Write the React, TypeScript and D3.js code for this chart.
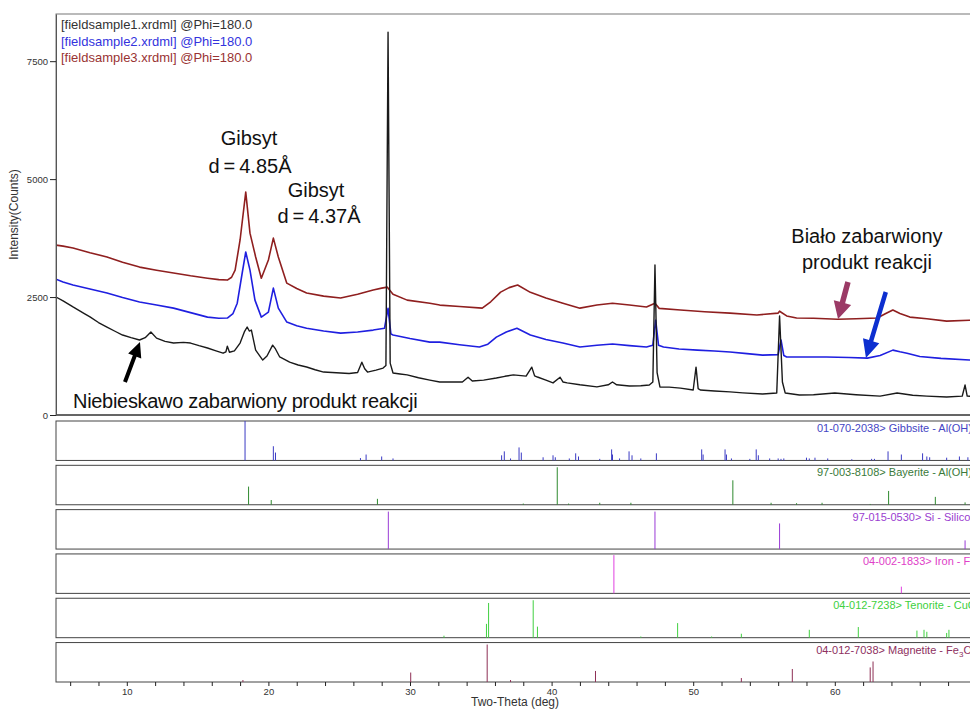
import { useEffect, useRef } from "react";
import * as d3 from "d3";

// measured scans: [2-theta (deg), intensity (counts)]
const sample1 = [
  [5.0, 2500], [5.5, 2420], [6.2, 2290], [7.0, 2150], [7.4, 2080], [8.0, 1960], [8.6, 1865],
  [9.2, 1770], [9.7, 1695], [10.3, 1640], [10.9, 1590], [11.3, 1640], [11.7, 1760], [12.1, 1630],
  [12.7, 1560], [13.3, 1525], [14.0, 1540], [14.5, 1525], [15.1, 1470], [15.7, 1420], [16.3, 1360],
  [16.8, 1310], [17.0, 1340], [17.1, 1460], [17.25, 1330], [17.6, 1360], [18.0, 1525], [18.3, 1760],
  [18.5, 1865], [18.65, 1780], [18.8, 1800], [19.1, 1375], [19.6, 1165], [19.9, 1250], [20.3, 1480],
  [20.5, 1400], [20.8, 1230], [21.5, 1120], [22.1, 1060], [22.7, 1017], [23.3, 960], [23.9, 910],
  [24.5, 900], [25.1, 890], [25.7, 880], [26.3, 900], [26.6, 1120], [26.8, 980], [27.0, 910],
  [27.6, 950], [28.1, 995], [28.3, 1050], [28.45, 8115], [28.6, 1100], [28.8, 890], [29.3, 870],
  [29.8, 850], [30.6, 790], [31.4, 740], [32.1, 700], [33.0, 700], [33.7, 700], [34.1, 800],
  [34.4, 720], [35.2, 740], [36.1, 785], [36.7, 820], [37.3, 850], [38.2, 825], [38.6, 1015],
  [38.8, 830], [39.0, 805], [39.6, 740], [40.1, 680], [40.6, 800], [40.8, 700], [41.1, 680],
  [42.0, 640], [43.2, 595], [44.0, 640], [44.3, 700], [44.6, 640], [45.5, 615], [46.3, 620],
  [46.9, 635], [47.15, 700], [47.3, 3180], [47.45, 900], [47.65, 595], [48.3, 590], [49.1, 570],
  [50.0, 530], [50.2, 1015], [50.35, 560], [50.5, 530], [51.5, 510], [52.6, 490], [53.5, 470],
  [54.9, 445], [55.9, 465], [56.1, 2100], [56.3, 700], [56.5, 465], [57.5, 425], [58.5, 430],
  [60.0, 465], [61.5, 430], [63.2, 400], [64.4, 465], [65.5, 420], [66.5, 400], [67.9, 380],
  [69.0, 400], [69.2, 635], [69.35, 400], [70.0, 390],
];

const sample2 = [
  [5.0, 2880], [5.5, 2820], [6.2, 2755], [7.4, 2670], [8.6, 2585], [9.7, 2490], [10.9, 2395],
  [12.1, 2330], [13.3, 2265], [14.5, 2170], [15.7, 2075], [16.5, 2050], [17.1, 2055], [17.5, 2150],
  [17.8, 2370], [18.15, 3010], [18.4, 3455], [18.7, 3070], [19.05, 2435], [19.5, 2075], [20.0, 2180],
  [20.35, 2690], [20.7, 2265], [21.3, 1970], [22.0, 1890], [22.7, 1840], [23.9, 1780], [25.1, 1735],
  [26.3, 1760], [27.4, 1800], [28.2, 1840], [28.45, 2260], [28.65, 1720], [28.8, 1695], [30.0, 1620],
  [31.4, 1545], [32.1, 1545], [33.5, 1490], [34.9, 1440], [35.5, 1500], [36.1, 1650], [36.8, 1760],
  [37.55, 1840], [38.5, 1695], [39.6, 1600], [40.8, 1525], [42.0, 1440], [43.2, 1480], [44.3, 1505],
  [45.5, 1470], [46.7, 1440], [47.15, 1480], [47.35, 2010], [47.55, 1480], [47.9, 1440], [49.0, 1400],
  [50.3, 1375], [51.5, 1355], [52.6, 1335], [53.8, 1300], [54.9, 1270], [56.0, 1280], [56.2, 1590],
  [56.4, 1260], [56.6, 1230], [57.5, 1230], [59.4, 1230], [61.0, 1220], [62.3, 1205], [63.2, 1260],
  [64.1, 1375], [64.6, 1340], [65.1, 1310], [66.0, 1240], [67.5, 1200], [69.5, 1165], [70.0, 1160],
];

const sample3 = [
  [5.0, 3600], [5.5, 3580], [6.2, 3540], [7.4, 3440], [8.6, 3350], [9.7, 3240], [10.9, 3135],
  [12.1, 3070], [13.3, 3010], [14.5, 2950], [15.7, 2900], [16.5, 2870], [17.1, 2860], [17.4, 2920],
  [17.65, 3070], [18.0, 3710], [18.4, 4725], [18.7, 3855], [19.1, 3350], [19.5, 2900], [20.0, 3285],
  [20.35, 3750], [20.7, 3350], [21.3, 2795], [22.0, 2680], [22.7, 2585], [23.9, 2520], [25.1, 2480],
  [26.3, 2560], [27.4, 2650], [28.0, 2690], [28.4, 2710], [28.8, 2560], [29.8, 2435], [31.4, 2370],
  [32.1, 2330], [33.5, 2300], [35.1, 2265], [35.7, 2400], [36.4, 2605], [37.0, 2700], [37.6, 2755],
  [38.5, 2600], [39.6, 2480], [40.8, 2370], [42.0, 2265], [43.2, 2330], [44.3, 2370], [45.5, 2330],
  [46.7, 2290], [47.3, 2370], [47.6, 2260], [49.1, 2225], [50.8, 2190], [52.6, 2160], [54.5, 2120],
  [56.0, 2160], [56.1, 2200], [56.6, 2100], [57.3, 2055], [58.5, 2050], [60.2, 2030], [61.5, 2040],
  [63.0, 2055], [63.6, 2150], [64.1, 2225], [64.6, 2150], [65.3, 2075], [66.5, 2040], [67.9, 1990],
  [69.5, 2010], [70.0, 2000],
];

const sampleNames = [
  "[fieldsample1.xrdml] @Phi=180.0",
  "[fieldsample2.xrdml] @Phi=180.0",
  "[fieldsample3.xrdml] @Phi=180.0",
];

// reference patterns: [2-theta (deg), relative intensity %]
const gibbsite = [
  [18.35, 100], [20.35, 36], [20.5, 20], [26.5, 6], [26.9, 15], [28.0, 10], [28.8, 5], [36.47, 13],
  [36.66, 23], [37.1, 5], [37.7, 33], [37.86, 20], [39.4, 8], [40.1, 13], [40.26, 8], [41.25, 5],
  [41.7, 18], [41.9, 10], [43.4, 4], [44.24, 28], [44.3, 15], [44.8, 5], [45.47, 23], [45.68, 13],
  [46.3, 5], [47.4, 18], [50.6, 28], [50.7, 15], [52.25, 28], [52.35, 15], [52.7, 5], [54.0, 4],
  [54.45, 28], [54.6, 13], [55.4, 5], [56.0, 5], [56.2, 4], [56.4, 5], [58.0, 7], [58.2, 5],
  [58.6, 7], [59.5, 5], [61.2, 3], [62.6, 4], [62.8, 4], [63.76, 23], [64.7, 15], [66.2, 18],
  [66.5, 10], [66.7, 8], [67.9, 7], [68.8, 10], [69.4, 8],
];
const bayerite = [
  [18.6, 46], [20.2, 12], [27.7, 15], [38.0, 3], [40.4, 95], [41.2, 3], [43.4, 5], [45.6, 5],
  [52.8, 62], [55.5, 5], [57.3, 4], [59.1, 5], [62.5, 2], [63.8, 35], [67.1, 20], [69.2, 6],
];
const silicon = [[28.47, 95], [47.3, 95], [56.1, 65], [69.2, 22]];
const iron = [[44.4, 97], [64.7, 17]];
const tenorite = [
  [32.4, 5], [35.4, 35], [35.55, 88], [38.7, 95], [39.0, 28], [46.3, 3], [48.9, 37], [51.3, 3],
  [53.4, 10], [58.2, 20], [61.66, 27], [65.8, 18], [66.3, 20], [66.5, 15], [67.9, 12], [68.06, 20],
];
const magnetite = [
  [18.2, 5], [30.05, 24], [35.45, 95], [37.1, 5], [43.1, 28], [53.4, 10], [57.0, 33], [62.5, 37],
  [62.7, 52],
];

const phaseCodes = ["01-070-2038", "97-003-8108", "97-015-0530", "04-002-1833", "04-012-7238", "04-012-7038"];
const phaseNames = ["Gibbsite", "Bayerite", "Si", "Iron", "Tenorite", "Magnetite"];
const phaseFormulas = ["Al(OH)3", "Al(OH)3", "Silicon", "Fe", "CuO", "Fe3O4"];
const phaseSticks = [gibbsite, bayerite, silicon, iron, tenorite, magnetite];

const yTicks = [0, 2500, 5000, 7500];
const xTicks = d3.range(6, 70, 2);

const sampleColors = ["#1a1a1a", "#1f1fe0", "#8f1f1f"];
const legendColors = ["#333333", "#3333dd", "#993333"];
const phaseColors = ["#3a3ac4", "#2f8a2f", "#9a3bd6", "#e040e0", "#40d040", "#8e2f55"];
const phaseTextColors = ["#4545c4", "#3a7a3a", "#9a40d0", "#e040c8", "#40d040", "#8e3060"];

const FONT = "'Liberation Sans', Arial, sans-serif";
const W = 970;
const H = 716;

const x = d3.scaleLinear().domain([5, 70]).range([56, 976.4]);
const y = d3.scaleLinear().domain([0, 8500]).range([415, 14]);
const band = d3.scaleBand<number>().domain(d3.range(6)).range([421, 682]).paddingInner(0.11);

const arrowPath = (x1: number, y1: number, x2: number, y2: number, sw: number, hw: number, hl: number) => {
  const dx = x2 - x1, dy = y2 - y1;
  const len = Math.hypot(dx, dy);
  const ux = dx / len, uy = dy / len;
  const nx = -uy, ny = ux;
  const bx = x2 - ux * hl, by = y2 - uy * hl;
  const p = [
    [x1 + nx * sw / 2, y1 + ny * sw / 2],
    [bx + nx * sw / 2, by + ny * sw / 2],
    [bx + nx * hw / 2, by + ny * hw / 2],
    [x2, y2],
    [bx - nx * hw / 2, by - ny * hw / 2],
    [bx - nx * sw / 2, by - ny * sw / 2],
    [x1 - nx * sw / 2, y1 - ny * sw / 2],
  ];
  return "M" + p.map((q) => q.join(",")).join("L") + "Z";
};

const Formula = ({ text }: { text: string }) => {
  const parts = text.split(/(\d+)/).filter((s) => s !== "");
  let shifted = false;
  return (
    <>
      {parts.map((s, i) => {
        if (/^\d+$/.test(s)) {
          shifted = true;
          return <tspan key={i} fontSize={8} dy={3}>{s}</tspan>;
        }
        const dy = shifted ? -3 : 0;
        shifted = false;
        return <tspan key={i} dy={dy}>{s}</tspan>;
      })}
    </>
  );
};

// "d=4.85Å" with the wider gaps round "=" seen in the original
const DText = ({ cx, cy, value }: { cx: number; cy: number; value: string }) => (
  <text x={cx} y={cy} textAnchor="middle">
    d<tspan dx={4}>=</tspan><tspan dx={4}>{value}</tspan>
  </text>
);

const App = () => {
  const xAxisRef = useRef<SVGGElement>(null);
  const yAxisRef = useRef<SVGGElement>(null);

  useEffect(() => {
    const gx = d3.select(xAxisRef.current);
    gx.selectAll("*").remove();
    gx.call(
      d3.axisBottom(x)
        .tickValues(xTicks)
        .tickSize(4)
        .tickSizeOuter(0)
        .tickPadding(2)
        .tickFormat((d) => (+d % 10 === 0 ? String(d) : ""))
    );
    gx.select(".domain").remove();
    gx.selectAll("line").attr("stroke", "#222");
    gx.selectAll("text").attr("font-size", 9.5).attr("font-family", FONT).attr("fill", "#333");

    const gy = d3.select(yAxisRef.current);
    gy.selectAll("*").remove();
    gy.call(d3.axisLeft(y).tickValues(yTicks).tickSize(6).tickSizeOuter(0).tickPadding(2).tickFormat(d3.format("d")));
    gy.select(".domain").attr("stroke", "#555");
    gy.selectAll("line").attr("stroke", "#222");
    gy.selectAll("text").attr("font-size", 9.5).attr("font-family", FONT).attr("fill", "#333");
  }, []);

  const line = d3
    .line<number[]>()
    .x((d) => x(d[0]))
    .y((d) => y(d[1]));

  const samples = [sample1, sample2, sample3];
  const widths = [1.4, 1.6, 1.6];

  const ax = (deg: number) => x(deg);
  const ay = (v: number) => y(v);

  return (
    <div style={{ position: "absolute", left: 0, top: 0, width: W, height: H, overflow: "hidden", background: "#fff" }}>
      <svg width={W} height={H} style={{ display: "block", fontFamily: FONT }}>
        <defs>
          <clipPath id="plotClip">
            <rect x={x(5)} y={y(8500)} width={x(70) - x(5)} height={y(0) - y(8500)} />
          </clipPath>
        </defs>

        {/* main plot frame */}
        <rect x={x(5)} y={y(8500)} width={x(70) - x(5)} height={y(0) - y(8500)} fill="none" stroke="#777" />
        <line x1={x(5)} x2={x(70)} y1={y(0)} y2={y(0)} stroke="#111" />

        {/* scans: red, blue, black on top */}
        <g clipPath="url(#plotClip)" fill="none" strokeLinejoin="round">
          {[2, 1, 0].map((i) => (
            <path key={i} d={line(samples[i]) ?? ""} stroke={sampleColors[i]} strokeWidth={widths[i]} />
          ))}
        </g>

        <g ref={yAxisRef} transform={`translate(${x(5)},0)`} />

        {/* legend */}
        {sampleNames.map((n, i) => (
          <text key={n} x={61} y={29 + i * 16.5} fontSize={13} fill={legendColors[i]}>
            {n}
          </text>
        ))}

        <text transform={`translate(18,${(y(0) + y(8500)) / 2}) rotate(-90)`} textAnchor="middle" fontSize={12} fill="#333">
          Intensity(Counts)
        </text>

        {/* annotations */}
        <g fontSize={20} fill="#111" textAnchor="middle">
          <text x={ax(18.63)} y={ay(5723)}>Gibsyt</text>
          <DText cx={ax(18.7)} cy={ay(5130)} value="4.85Å" />
          <text x={ax(23.36)} y={ay(4621)}>Gibsyt</text>
          <DText cx={ax(23.57)} cy={ay(4070)} value="4.37Å" />
          <text x={ax(62.27)} y={ay(3646)}>Biało zabarwiony</text>
          <text x={ax(62.27)} y={ay(3095)}>produkt reakcji</text>
          <text x={ax(6.2)} y={ay(148)} textAnchor="start" letterSpacing={-0.3}>
            Niebieskawo zabarwiony produkt reakcji
          </text>
        </g>
        <path d={arrowPath(ax(9.87), ay(700), ax(10.93), ay(1547), 4, 14, 15)} fill="#000" />
        <path d={arrowPath(ax(60.93), ay(2819), ax(60.23), ay(2035), 5.5, 18, 17)} fill="#9b3a66" />
        <path d={arrowPath(ax(63.6), ay(2607), ax(62.2), ay(1208), 4.5, 17, 18)} fill="#0d2fd0" />

        {/* reference pattern panels */}
        {phaseSticks.map((sticks, i) => {
          const top = band(i) ?? 0;
          const bottom = top + band.bandwidth();
          const sy = d3.scaleLinear().domain([0, 100]).range([bottom, top]);
          return (
            <g key={i}>
              <rect x={x(5)} y={top} width={x(70) - x(5)} height={bottom - top} fill="#fff" stroke="#444" />
              {sticks.map((s, j) => (
                <line key={j} x1={x(s[0])} x2={x(s[0])} y1={sy(0)} y2={sy(s[1])} stroke={phaseColors[i]} strokeWidth={1} />
              ))}
              <text x={x(70)} y={top + 11} textAnchor="end" fontSize={11} fill={phaseTextColors[i]}>
                {`${phaseCodes[i]}> ${phaseNames[i]} - `}
                <Formula text={phaseFormulas[i]} />
              </text>
            </g>
          );
        })}

        <g ref={xAxisRef} transform={`translate(0,${(band(5) ?? 0) + band.bandwidth()})`} />
        <text x={515} y={706} textAnchor="middle" fontSize={12} fill="#333">
          Two-Theta (deg)
        </text>
      </svg>
    </div>
  );
};

export default App;
